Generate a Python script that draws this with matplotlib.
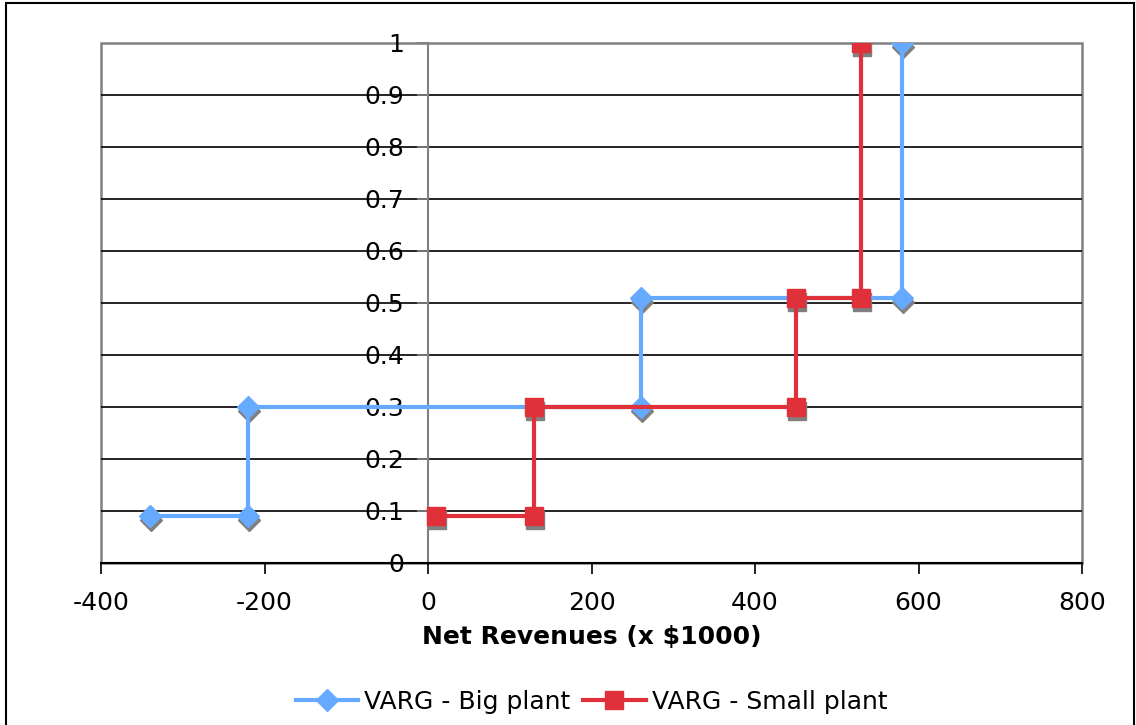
import matplotlib
matplotlib.use('Agg')
import matplotlib.pyplot as plt
import matplotlib.transforms as mtransforms
from matplotlib.patches import Rectangle

# step curves of probability vs net revenue
big_x = [-340, -220, -220, 260, 260, 580, 580]
big_y = [0.09, 0.09, 0.30, 0.30, 0.51, 0.51, 1.0]
small_x = [10, 130, 130, 450, 450, 530, 530]
small_y = [0.09, 0.09, 0.30, 0.30, 0.51, 0.51, 1.0]

x_ticks = [-400, -200, 0, 200, 400, 600, 800]
y_ticks = [0, 0.1, 0.2, 0.3, 0.4, 0.5, 0.6, 0.7, 0.8, 0.9, 1]
y_labels = ['0', '0.1', '0.2', '0.3', '0.4', '0.5', '0.6', '0.7', '0.8', '0.9', '1']

BLUE = '#66aaff'
RED = '#e0303a'
SHADOW = '#808080'

plt.rcParams['font.family'] = ['DejaVu Sans']
fig = plt.figure(figsize=(11.36, 7.25), dpi=100)
ax = fig.add_axes([101/1136, 162/725, 981/1136, 520/725])

# y axis sits at x = 0 (set before the ticks, it resets them)
ax.spines['left'].set_position(('data', 0))
ax.spines['left'].set_color(SHADOW)
ax.spines['left'].set_linewidth(1.5)
ax.spines['left'].set_zorder(1)
ax.spines['bottom'].set_color('black')
ax.spines['bottom'].set_linewidth(1.5)
ax.spines['top'].set_visible(False)
ax.spines['right'].set_visible(False)

# grid lines
for v in y_ticks[1:-1]:
    ax.axhline(v, color='black', lw=1.2, zorder=1)

# drop shadows under the markers
shadow = mtransforms.offset_copy(ax.transData, fig=fig, x=1, y=-4, units='dots')
ax.plot(big_x, big_y, 'D', ms=11, color=SHADOW, mec=SHADOW, transform=shadow, zorder=2)
ax.plot(small_x, small_y, 's', ms=13.5, color=SHADOW, mec=SHADOW, transform=shadow, zorder=2)

ax.plot(big_x, big_y, '-D', color=BLUE, lw=3, ms=11, mec=BLUE,
        label='VARG - Big plant', zorder=3)
ax.plot(small_x, small_y, '-s', color=RED, lw=3, ms=13.5, mec=RED,
        label='VARG - Small plant', zorder=4)

ax.set_xlim(-400, 800)
ax.set_ylim(0, 1)
ax.set_xticks(x_ticks)
ax.set_xticklabels([str(t) for t in x_ticks], fontsize=18)
ax.set_yticks(y_ticks)
ax.set_yticklabels(y_labels, fontsize=18)
ax.tick_params(axis='y', length=8, width=1.2, color=SHADOW, pad=9)
ax.tick_params(axis='x', length=8, width=1.2, color='black', pad=12)
for lab in ax.get_yticklabels():
    lab.set_zorder(5)

# plot area frame
ax.add_patch(Rectangle((0, 0), 1, 1, transform=ax.transAxes, fill=False,
                       edgecolor=SHADOW, lw=1.8, clip_on=False, zorder=0.5))

ax.set_xlabel('Net Revenues (x $1000)', fontsize=18, fontweight='bold', labelpad=7)

ax.legend(loc='upper center', bbox_to_anchor=(0.5, -0.2), ncol=2, frameon=False,
          fontsize=18, handlelength=2.5, handletextpad=0.24, columnspacing=0.5)

# outer chart border
fig.add_artist(Rectangle((6/1136, -0.01), 1128/1136, 1.0 - 3/725 + 0.01,
                         transform=fig.transFigure, fill=False, edgecolor='black', lw=1.5))

fig.savefig('out.png', dpi=100)
